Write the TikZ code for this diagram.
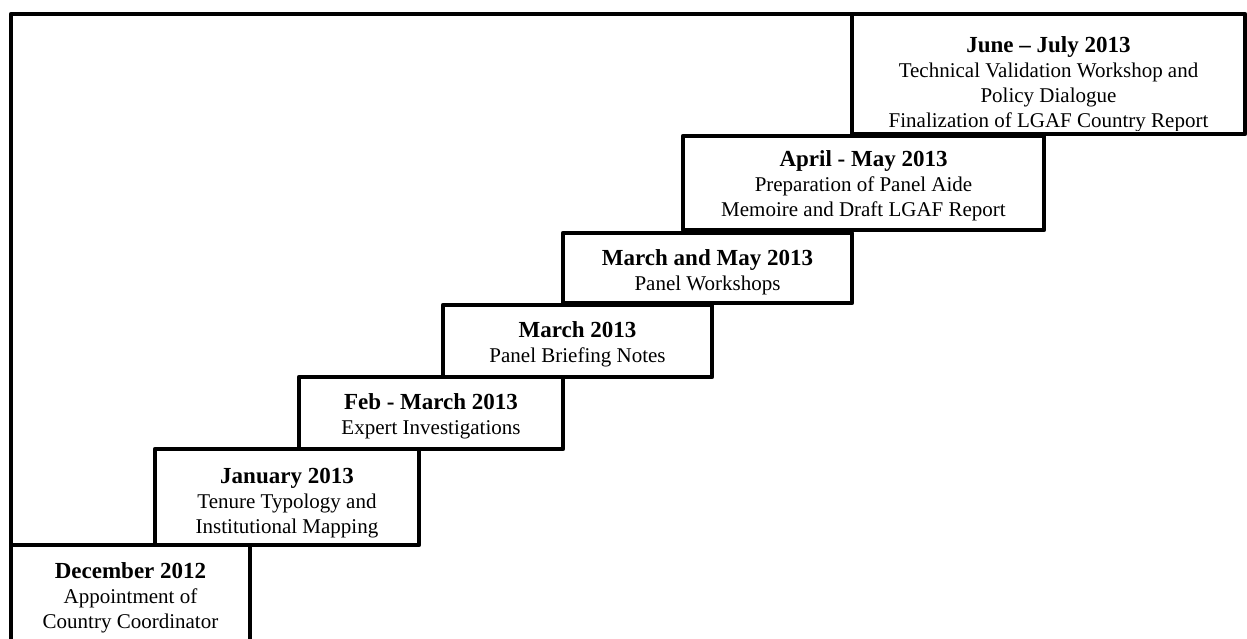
\documentclass[tikz,border=0pt]{standalone}
\usepackage{fontspec}
\setmainfont{Liberation Serif}
\begin{document}
\begin{tikzpicture}[x=1pt,y=-1pt,
  boxline/.style={draw=black,line width=4.6pt,line join=round},
  lbl/.style={anchor=base,inner sep=0pt,font=\fontsize{21}{25}\selectfont},
  hd/.style={anchor=base,inner sep=0pt,font=\fontsize{23}{25}\selectfont\bfseries}]
\useasboundingbox (0,0) rectangle (1247,639);
\clip (0,0) rectangle (1247,639);
% December
\begin{scope}
\clip (11,547) rectangle (250,700);
\node[hd]  (d1) at (130.5,578) {December 2012};
\node[lbl] (d2) at (130.5,603) {Appointment of};
\node[lbl] (d3) at (130.5,628) {Country Coordinator};
\end{scope}
% January
\begin{scope}
\clip (155,451) rectangle (419,542);
\node[hd]  (j1) at (287,483) {January 2013};
\node[lbl] (j2) at (287,508) {Tenure Typology and};
\node[lbl] (j3) at (287,533) {Institutional Mapping};
\end{scope}
% Feb
\begin{scope}
\clip (299,379) rectangle (563,446);
\node[hd]  (f1) at (431,409) {Feb - March 2013};
\node[lbl] (f2) at (431,434) {Expert Investigations};
\end{scope}
% March
\begin{scope}
\clip (443,307) rectangle (712,374);
\node[hd]  (m1) at (577.5,337) {March 2013};
\node[lbl] (m2) at (577.5,362) {Panel Briefing Notes};
\end{scope}
% March and May
\begin{scope}
\clip (563,235) rectangle (852,300);
\node[hd]  (mm1) at (707.5,265) {March and May 2013};
\node[lbl] (mm2) at (707.5,290) {Panel Workshops};
\end{scope}
% April
\begin{scope}
\clip (683,138) rectangle (1044,227);
\node[hd]  (a1) at (863.5,167) {April - May 2013};
\node[lbl] (a2) at (863.5,192) {Preparation of Panel Aide};
\node[lbl] (a3) at (863.5,217) {Memoire and Draft LGAF Report};
\end{scope}
% June
\begin{scope}
\clip (852,16) rectangle (1245,131);
\node[hd]  (u1) at (1048.5,53) {June – July 2013};
\node[lbl] (u2) at (1048.5,78) {Technical Validation Workshop and};
\node[lbl] (u3) at (1048.5,103) {Policy Dialogue};
\node[lbl] (u4) at (1048.5,128) {Finalization of LGAF Country Report};
\end{scope}
% frame and boxes
\draw[boxline] (11,545) -- (11,14) -- (1245,14);
\draw[boxline] (11,545) rectangle (250,700);
\draw[boxline] (155,449) rectangle (419,545);
\draw[boxline] (299,377) rectangle (563,449);
\draw[boxline] (443,305) rectangle (712,377);
\draw[boxline] (563,233) rectangle (852,303);
\draw[boxline] (683,136) rectangle (1044,230);
\draw[boxline] (852,14) rectangle (1245,134);
\end{tikzpicture}
\end{document}
